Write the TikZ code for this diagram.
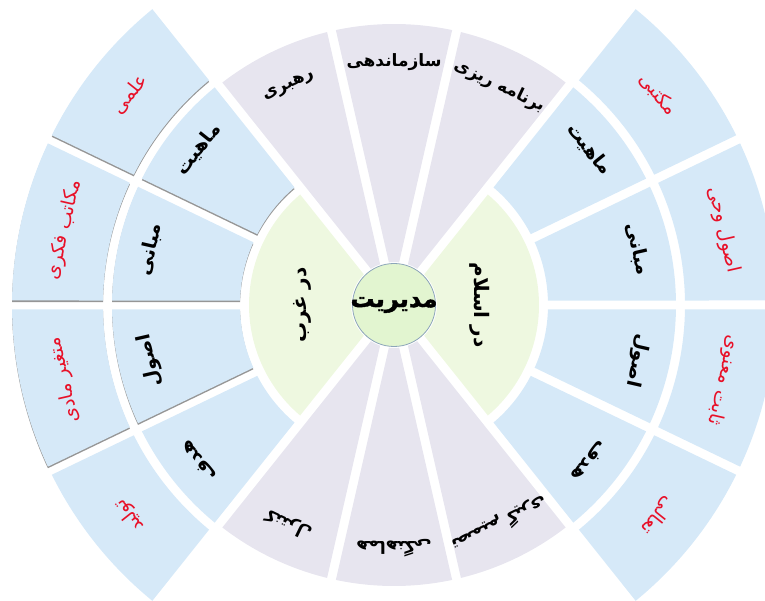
\documentclass[tikz,border=0pt]{standalone}
\usepackage{fontspec}
\newfontfamily\fa[Script=Arabic]{DejaVu Sans}
\newfontfamily\fab[Script=Arabic,FakeBold=1.6]{DejaVu Sans Bold}
\TeXXeTstate=1
\usetikzlibrary{calc}
\definecolor{segblue}{RGB}{214,233,248}
\definecolor{seglav}{RGB}{231,229,239}
\definecolor{seggreen}{RGB}{238,248,224}
\definecolor{cgreen}{RGB}{226,245,208}
\definecolor{cborder}{RGB}{140,165,185}
\definecolor{redtxt}{RGB}{232,16,40}
\definecolor{shadowgray}{RGB}{150,150,150}

% annular sector with a 9pt gap on its straight sides
\newcommand{\ringseg}[5]{%
  \pgfmathsetmacro{\sA}{#1+deg(4.5/#3)}%
  \pgfmathsetmacro{\sB}{#2-deg(4.5/#3)}%
  \pgfmathsetmacro{\tA}{#1+deg(4.5/#4)}%
  \pgfmathsetmacro{\tB}{#2-deg(4.5/#4)}%
  \path[#5] ($(C)+(\sA:#3pt)$) arc[start angle=\sA,end angle=\sB,radius=#3pt]
     -- ($(C)+(\tB:#4pt)$) arc[start angle=\tB,end angle=\tA,radius=#4pt] -- cycle;}
% label placed at an angle, top of text facing outward
\newcommand{\lbl}[5]{\node[#4, rotate=#2-90] (#1) at ($(C)+(#2:#3pt)$) {#5};}

\begin{document}
\begin{tikzpicture}[x=1pt,y=1pt,
  bluefill/.style={fill=segblue},
  lavfill/.style={fill=seglav},
  greenfill/.style={fill=seggreen},
  shadowfill/.style={fill=shadowgray, transform canvas={yshift=-1.6pt}},
  blacklab/.style={font=\fa\bfseries\fontsize{19}{19}\selectfont, text=black, inner sep=0pt},
  funclab/.style={font=\fa\bfseries\fontsize{17}{17}\selectfont, text=black, inner sep=0pt},
  redlab/.style={font=\fa\fontsize{19}{19}\selectfont, text=redtxt, inner sep=0pt},
  sidelab/.style={font=\fa\bfseries\fontsize{20}{20}\selectfont, text=black, inner sep=0pt},
  centerlab/.style={font=\fab\fontsize{24}{24}\selectfont, text=black, inner sep=0pt},
  hub/.style={circle, minimum size=83pt, inner sep=0pt, fill=cgreen, draw=cborder, line width=0.8pt}
]
\useasboundingbox (0,0) rectangle (765,600);
\coordinate (C) at (394,295);

% ---- shadows on left-hand blue segments
\ringseg{128.57}{154.29}{154}{282}{shadowfill}
\ringseg{154.29}{180}{154}{282}{shadowfill}
\ringseg{180}{205.71}{154}{282}{shadowfill}
\ringseg{128.57}{154.29}{291}{382}{shadowfill}
\ringseg{154.29}{180}{291}{382}{shadowfill}
\ringseg{180}{205.71}{291}{382}{shadowfill}

% ---- lavender sectors (top and bottom)
\ringseg{51.43}{77.14}{43}{281}{lavfill}
\ringseg{77.14}{102.86}{43}{281}{lavfill}
\ringseg{102.86}{128.57}{43}{281}{lavfill}
\ringseg{231.43}{257.14}{43}{281}{lavfill}
\ringseg{257.14}{282.86}{43}{281}{lavfill}
\ringseg{282.86}{308.57}{43}{281}{lavfill}

% ---- green sectors
\ringseg{128.57}{231.43}{43}{145}{greenfill}
\ringseg{-51.43}{51.43}{43}{145}{greenfill}

% ---- blue rings, left
\foreach \a/\b in {128.57/154.29,154.29/180,180/205.71,205.71/231.43}{
  \ringseg{\a}{\b}{154}{282}{bluefill}
  \ringseg{\a}{\b}{291}{382}{bluefill}
}
% ---- blue rings, right
\foreach \a/\b in {-51.43/-25.71,-25.71/0,0/25.71,25.71/51.43}{
  \ringseg{\a}{\b}{154}{282}{bluefill}
  \ringseg{\a}{\b}{291}{382}{bluefill}
}

% ---- hub
\node[hub] (hub) at (C) {};
\node[centerlab] (mgmt) at (C) {\beginR مدیریت\endR};

% ---- side labels
\lbl{west}{180}{92}{sidelab}{\beginR در غرب\endR}
\lbl{islam}{0}{86}{sidelab}{\beginR در اسلام\endR}

% ---- management functions
\lbl{f1}{64.29}{243}{funclab}{\beginR برنامه ریزی\endR}
\lbl{f2}{90}{243}{funclab}{\beginR سازماندهی\endR}
\lbl{f3}{115.71}{243}{funclab}{\beginR رهبری\endR}
\lbl{f4}{244.29}{243}{funclab}{\beginR کنترل\endR}
\lbl{f5}{270}{243}{funclab}{\beginR هماهنگی\endR}
\lbl{f6}{295.71}{243}{funclab}{\beginR تصمیم گیری\endR}

% ---- left inner / outer
\lbl{wl1}{141.43}{250}{blacklab}{\beginR ماهیت\endR}
\lbl{wl2}{167.14}{250}{blacklab}{\beginR مبانی\endR}
\lbl{wl3}{192.86}{250}{blacklab}{\beginR اصول\endR}
\lbl{wl4}{218.57}{250}{blacklab}{\beginR هدف\endR}
\lbl{wo1}{141.43}{338}{redlab}{\beginR علمی\endR}
\lbl{wo2}{167.14}{338}{redlab}{\beginR مکاتب فکری\endR}
\lbl{wo3}{192.86}{338}{redlab}{\beginR متغیر مادی\endR}
\lbl{wo4}{218.57}{338}{redlab}{\beginR تولید\endR}

% ---- right inner / outer
\lbl{il1}{38.57}{250}{blacklab}{\beginR ماهیت\endR}
\lbl{il2}{12.86}{250}{blacklab}{\beginR مبانی\endR}
\lbl{il3}{-12.86}{250}{blacklab}{\beginR اصول\endR}
\lbl{il4}{-38.57}{250}{blacklab}{\beginR هدف\endR}
\lbl{io1}{38.57}{338}{redlab}{\beginR مکتبی\endR}
\lbl{io2}{12.86}{338}{redlab}{\beginR اصول وحی\endR}
\lbl{io3}{-12.86}{338}{redlab}{\beginR ثابت معنوی\endR}
\lbl{io4}{-38.57}{338}{redlab}{\beginR تعالی\endR}
\end{tikzpicture}
\end{document}
